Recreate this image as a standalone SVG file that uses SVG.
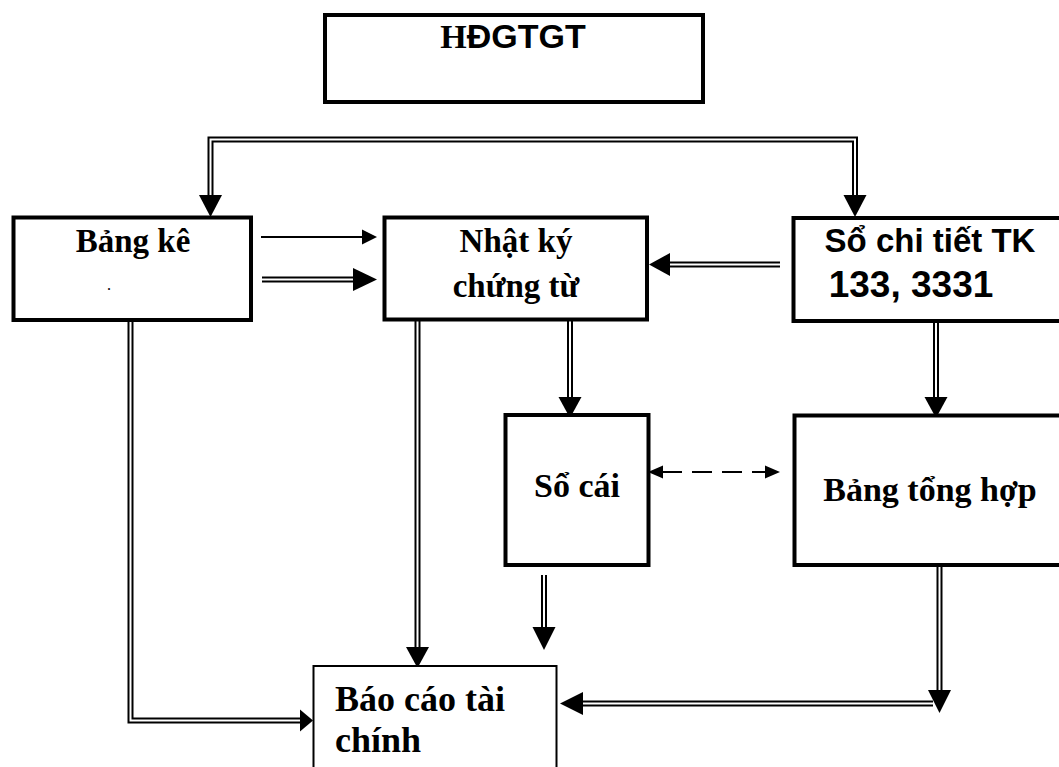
<svg xmlns="http://www.w3.org/2000/svg" width="1059" height="767" viewBox="0 0 1059 767">
<style>
.box{fill:#fff;stroke:#000;stroke-width:4}
.thin{fill:#fff;stroke:#000;stroke-width:2}
.tr{font-family:"Liberation Serif","Times New Roman",serif;font-weight:bold;fill:#000}
.ar{font-family:"Liberation Sans",Arial,sans-serif;font-weight:bold;fill:#000}
.dblo{fill:none;stroke:#000;stroke-width:6;stroke-linejoin:miter}
.dbli{fill:none;stroke:#fff;stroke-width:2;stroke-linejoin:miter}
.single{fill:none;stroke:#000;stroke-width:2}
.dash{fill:none;stroke:#000;stroke-width:2;stroke-dasharray:20 10}
.head{fill:#000}
</style>
<rect width="1059" height="767" fill="#fff"/>
<g id="connectors">
  <path class="dblo" d="M210.5 196 V139.5 H855 V196"/>
  <path class="dbli" d="M210.5 196 V139.5 H855 V196"/>
  <polygon class="head" points="199,195 222,195 210.5,217"/>
  <polygon class="head" points="843.5,195 866.5,195 855,217"/>
  <line class="single" x1="261" y1="237" x2="364" y2="237"/>
  <polygon class="head" points="362,229.5 377,237 362,244.5"/>
  <path class="dblo" d="M262 279.5 H355"/>
  <path class="dbli" d="M262 279.5 H355"/>
  <polygon class="head" points="353,268 377,279.5 353,291"/>
  <path class="dblo" d="M780 264.5 H668"/>
  <path class="dbli" d="M780 264.5 H668"/>
  <polygon class="head" points="670,253 649,264.5 670,276"/>
  <path class="dblo" d="M417.5 320 V649"/>
  <path class="dbli" d="M417.5 320 V649"/>
  <polygon class="head" points="406,647 429,647 417.5,668"/>
  <path class="dblo" d="M570 320 V399"/>
  <path class="dbli" d="M570 320 V399"/>
  <polygon class="head" points="558.5,397 581.5,397 570,418"/>
  <path class="dblo" d="M936 321 V399"/>
  <path class="dbli" d="M936 321 V399"/>
  <polygon class="head" points="924.5,397 947.5,397 936,418"/>
  <path class="dblo" d="M544 575 V629"/>
  <path class="dbli" d="M544 575 V629"/>
  <polygon class="head" points="532.5,627 555.5,627 544,650"/>
  <path class="dblo" d="M939.5 561 V692"/>
  <path class="dbli" d="M939.5 561 V692"/>
  <polygon class="head" points="928,690 951,690 939.5,713"/>
  <path class="dblo" d="M933 703.5 H581"/>
  <path class="dbli" d="M933 703.5 H581"/>
  <polygon class="head" points="583,692 560,703.5 583,715"/>
  <path class="dblo" d="M130.5 317 V720.5 H302"/>
  <path class="dbli" d="M130.5 317 V720.5 H302"/>
  <polygon class="head" points="300,709.5 313,720.5 300,731.5"/>
  <line class="dash" x1="662" y1="472" x2="766" y2="472"/>
  <polygon class="head" points="663,465.5 648,472 663,478.5"/>
  <polygon class="head" points="765,465.5 780,472 765,478.5"/>
</g>
<g id="hdgtgt">
  <rect class="box" x="325" y="15" width="378" height="87"/>
  <text x="513" y="48" text-anchor="middle" font-size="34"><tspan class="tr">H</tspan><tspan class="ar">ĐGTGT</tspan></text>
</g>
<g id="bang-ke">
  <rect class="box" x="13.5" y="217.5" width="237.5" height="102.5"/>
  <text class="tr" x="133" y="252" text-anchor="middle" font-size="33">Bảng kê</text>
  <text class="tr" x="109" y="290" text-anchor="middle" font-size="12">.</text>
</g>
<g id="nhat-ky">
  <rect class="box" x="384.5" y="217.5" width="262.5" height="102"/>
  <text class="tr" x="516" y="252" text-anchor="middle" font-size="33">Nhật ký</text>
  <text class="tr" x="516" y="297" text-anchor="middle" font-size="33">chứng từ</text>
</g>
<g id="so-chi-tiet">
  <rect class="box" x="793.5" y="218" width="300" height="103"/>
  <text class="ar" x="930" y="252" text-anchor="middle" font-size="33">Sổ chi tiết TK</text>
  <text class="ar" x="911" y="297" text-anchor="middle" font-size="37">133, 3331</text>
</g>
<g id="so-cai">
  <rect class="box" x="505.5" y="415" width="143" height="150"/>
  <text class="tr" x="577" y="497" text-anchor="middle" font-size="34">Sổ cái</text>
</g>
<g id="bang-tong-hop">
  <rect class="box" x="794.5" y="415.5" width="300" height="149.5"/>
  <text class="tr" x="930" y="501" text-anchor="middle" font-size="34">Bảng tổng hợp</text>
</g>
<g id="bao-cao">
  <rect class="thin" x="313.5" y="666" width="243" height="120"/>
  <text class="tr" x="335" y="711" font-size="36">Báo cáo tài</text>
  <text class="tr" x="335" y="752" font-size="36">chính</text>
</g>
</svg>
